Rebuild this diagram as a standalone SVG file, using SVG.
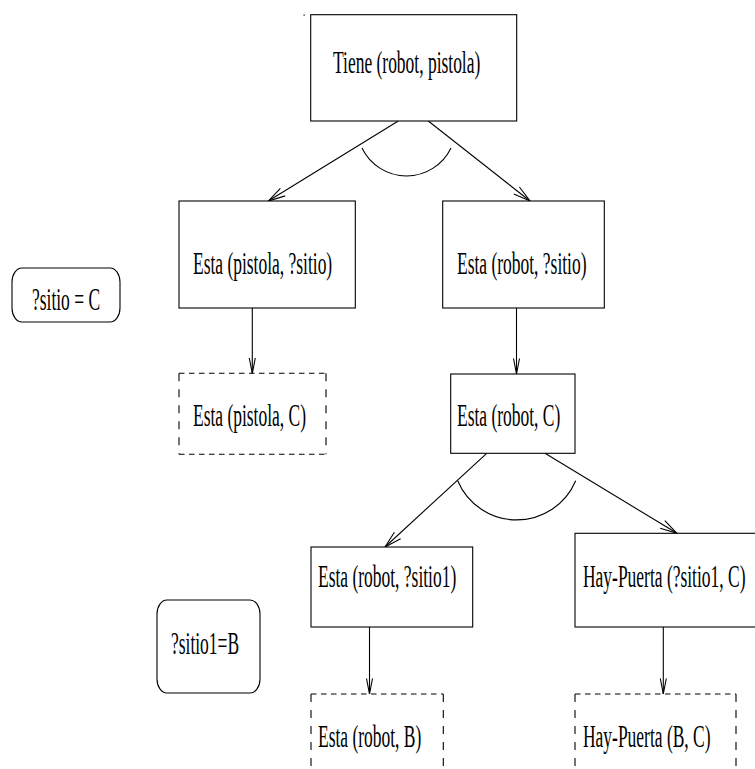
<svg xmlns="http://www.w3.org/2000/svg" width="755" height="769" viewBox="0 0 755 769">
  <style>
    .box { fill: #ffffff; stroke: #000000; stroke-width: 1.1; }
    .bind { fill: #ffffff; stroke: #000000; stroke-width: 1.1; }
    .dh { fill: none; stroke: #000000; stroke-width: 1.1; stroke-dasharray: 5.5 4.5; }
    .dv { fill: none; stroke: #000000; stroke-width: 1.1; stroke-dasharray: 8 8; }
    .edge { fill: none; stroke: #000000; stroke-width: 1.1; }
    .head { fill: none; stroke: #000000; stroke-width: 1.1; stroke-linejoin: miter; }
    .arc { fill: none; stroke: #000000; stroke-width: 1.1; }
    text { font-family: "Liberation Serif", "Times New Roman", serif; font-size: 32px; fill: #000000; }
  </style>
  <rect width="755" height="769" fill="#ffffff"/>

  <!-- stray mark at the top -->
  <rect x="303.5" y="14.5" width="1.2" height="1.2" fill="#000000"/>

  <!-- connectors -->
  <g id="connectors">
    <!-- Tiene -> both Esta goals (AND) -->
    <line class="edge" x1="398.3" y1="121" x2="268.3" y2="201"/>
    <path class="head" d="M280.4,188.3 L268.3,201 L285.2,195.9"/>
    <line class="edge" x1="428.3" y1="121" x2="530" y2="201"/>
    <path class="head" d="M513.8,194.0 L530,201 L519.4,187.0"/>
    <path class="arc" d="M362,148 A49.4,49.4 0 0 0 451,148"/>

    <!-- Esta (pistola, ?sitio) -> Esta (pistola, C) -->
    <line class="edge" x1="252.3" y1="308" x2="252.3" y2="373.3"/>
    <path class="head" d="M249.3,358 L252.3,373.3 L255.3,358"/>

    <!-- Esta (robot, ?sitio) -> Esta (robot, C) -->
    <line class="edge" x1="516.5" y1="308" x2="516.5" y2="374"/>
    <path class="head" d="M513.5,358.5 L516.5,374 L519.5,358.5"/>

    <!-- Esta (robot, C) -> subgoals (AND) -->
    <line class="edge" x1="486.7" y1="453.3" x2="385" y2="547"/>
    <path class="head" d="M394.4,532.2 L385,547 L400.6,538.8"/>
    <line class="edge" x1="545" y1="453.3" x2="677" y2="533.3"/>
    <path class="head" d="M660.2,528.3 L677,533.3 L664.8,520.7"/>
    <path class="arc" d="M457.7,480.7 A64,64 0 0 0 575.7,480.7"/>

    <!-- Esta (robot, ?sitio1) -> Esta (robot, B) -->
    <line class="edge" x1="369.5" y1="627" x2="369.5" y2="694"/>
    <path class="head" d="M366.5,678.5 L369.5,694 L372.5,678.5"/>

    <!-- Hay-Puerta (?sitio1, C) -> Hay-Puerta (B, C) -->
    <line class="edge" x1="663.3" y1="627" x2="663.3" y2="694"/>
    <path class="head" d="M660.3,678.5 L663.3,694 L666.3,678.5"/>
  </g>

  <!-- goal nodes (labels set in a condensed serif) -->
  <g id="tiene-robot-pistola">
    <rect class="box" x="310.7" y="14.7" width="206" height="106.3"/>
    <text transform="translate(333 73) scale(0.546 1)">Tiene (robot, pistola)</text>
  </g>

  <g id="esta-pistola-sitio">
    <rect class="box" x="179" y="201" width="176.3" height="107"/>
    <text transform="translate(193 274) scale(0.546 1)">Esta (pistola, ?sitio)</text>
  </g>

  <g id="esta-robot-sitio">
    <rect class="box" x="442.7" y="201" width="161.6" height="107"/>
    <text transform="translate(457 274) scale(0.546 1)">Esta (robot, ?sitio)</text>
  </g>

  <g id="esta-pistola-c">
    <line class="dh" x1="179" y1="373.3" x2="326" y2="373.3"/>
    <line class="dh" x1="179" y1="454.3" x2="326" y2="454.3"/>
    <line class="dv" x1="179" y1="373.3" x2="179" y2="454.3"/>
    <line class="dv" x1="326" y1="373.3" x2="326" y2="454.3"/>
    <text transform="translate(193 426) scale(0.546 1)">Esta (pistola, C)</text>
  </g>

  <g id="esta-robot-c">
    <rect class="box" x="450.7" y="374" width="124.3" height="79.3"/>
    <text transform="translate(457 426) scale(0.546 1)">Esta (robot, C)</text>
  </g>

  <g id="esta-robot-sitio1">
    <rect class="box" x="311" y="547" width="161.7" height="80"/>
    <text transform="translate(318 587) scale(0.546 1)">Esta (robot, ?sitio1)</text>
  </g>

  <g id="hay-puerta-sitio1-c">
    <rect class="box" x="575" y="533.3" width="185" height="93.7"/>
    <text transform="translate(583 587) scale(0.546 1)">Hay-Puerta (?sitio1, C)</text>
  </g>

  <g id="esta-robot-b">
    <line class="dh" x1="311" y1="694" x2="443.3" y2="694"/>
    <line class="dv" x1="311" y1="694" x2="311" y2="775"/>
    <line class="dv" x1="443.3" y1="694" x2="443.3" y2="775"/>
    <text transform="translate(318 747) scale(0.546 1)">Esta (robot, B)</text>
  </g>

  <g id="hay-puerta-b-c">
    <line class="dh" x1="575" y1="694" x2="736" y2="694"/>
    <line class="dv" x1="575" y1="694" x2="575" y2="775"/>
    <line class="dv" x1="736" y1="694" x2="736" y2="775"/>
    <text transform="translate(583 747) scale(0.546 1)">Hay-Puerta (B, C)</text>
  </g>

  <!-- variable bindings -->
  <g id="binding-sitio">
    <rect class="bind" x="12" y="268" width="108" height="54" rx="10" ry="14"/>
    <text transform="translate(32 310) scale(0.546 1)">?sitio = C</text>
  </g>

  <g id="binding-sitio1">
    <rect class="bind" x="157" y="600" width="103" height="93" rx="10" ry="14"/>
    <text transform="translate(171 654) scale(0.546 1)">?sitio1=B</text>
  </g>
</svg>
